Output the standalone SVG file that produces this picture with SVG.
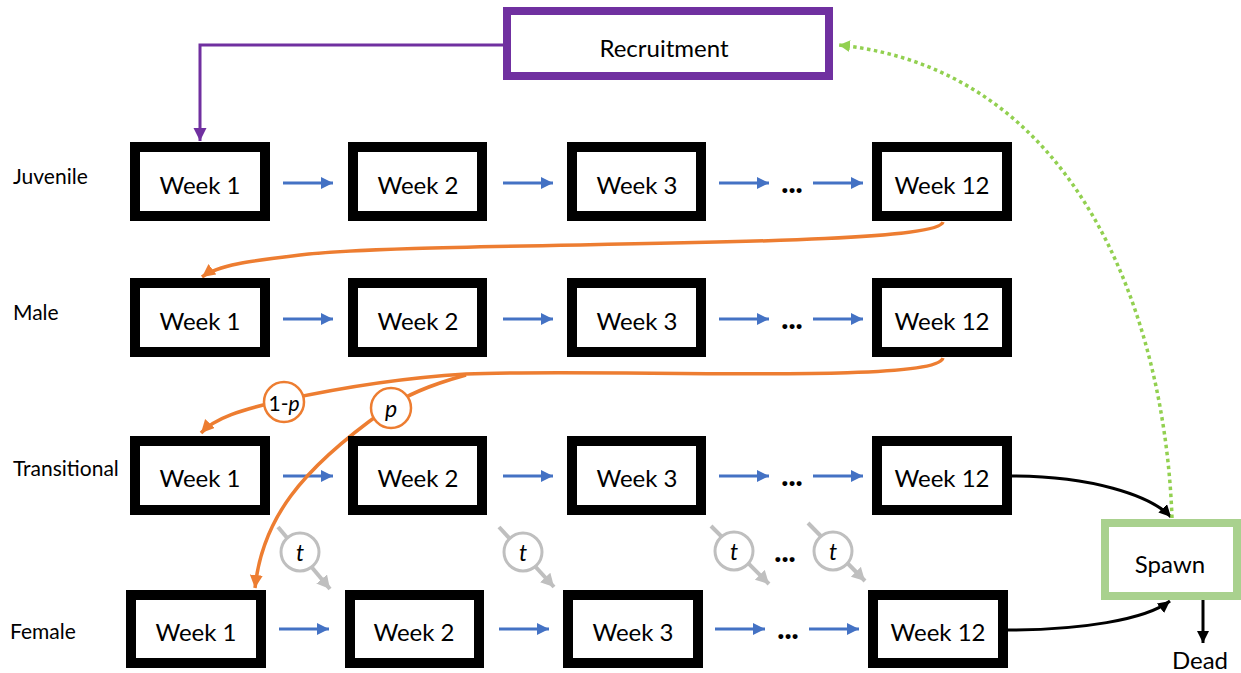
<svg xmlns="http://www.w3.org/2000/svg" width="1241" height="673" viewBox="0 0 1241 673">
<style>
.box{fill:#fff;stroke:#000;stroke-width:10}
.lbl{font-family:Lato,"Open Sans","Liberation Sans",sans-serif;font-size:24px;fill:#000;text-anchor:middle;dominant-baseline:central}
.row{font-family:Lato,"Open Sans","Liberation Sans",sans-serif;font-size:21px;fill:#000;dominant-baseline:central}
.dots{font-family:Lato,"Open Sans","Liberation Sans",sans-serif;font-size:30px;font-weight:900;fill:#000;text-anchor:middle}
.blue{stroke:#4472C4;stroke-width:3;fill:none;marker-end:url(#mBlue)}
.orange{stroke:#ED7D31;stroke-width:3.5;fill:none}
.gray{stroke:#BFBFBF;stroke-width:4;fill:none}
.ital{font-family:Lato,"Open Sans","Liberation Sans",sans-serif;font-size:23px;font-style:italic;fill:#000;text-anchor:middle;dominant-baseline:central}
</style>
<defs>
<marker id="mBlue" markerUnits="userSpaceOnUse" markerWidth="14" markerHeight="14" refX="12" refY="6" orient="auto"><path d="M0,0 L12,6 L0,12 z" fill="#4472C4"/></marker>
<marker id="mOrange" markerUnits="userSpaceOnUse" markerWidth="16" markerHeight="16" refX="13" refY="6.5" orient="auto"><path d="M0,0 L13,6.5 L0,13 z" fill="#ED7D31"/></marker>
<marker id="mPurple" markerUnits="userSpaceOnUse" markerWidth="16" markerHeight="16" refX="13" refY="6.5" orient="auto"><path d="M0,0 L13,6.5 L0,13 z" fill="#7030A0"/></marker>
<marker id="mGray" markerUnits="userSpaceOnUse" markerWidth="16" markerHeight="16" refX="13" refY="7" orient="auto"><path d="M0,0 L13,7 L0,14 z" fill="#BFBFBF"/></marker>
<marker id="mBlack" markerUnits="userSpaceOnUse" markerWidth="16" markerHeight="16" refX="12" refY="6" orient="auto"><path d="M0,0 L12,6 L0,12 z" fill="#000"/></marker>
<marker id="mGreen" markerUnits="userSpaceOnUse" markerWidth="16" markerHeight="16" refX="11" refY="6" orient="auto"><path d="M0,0 L11,6 L0,12 z" fill="#92D050"/></marker>
</defs>

<rect width="1241" height="673" fill="#fff"/>

<text class="row" x="13" y="175">Juvenile</text>
<text class="row" x="13" y="311">Male</text>
<text class="row" x="13" y="467">Transitional</text>
<text class="row" x="10" y="630">Female</text>

<g id="connectors">
  <path d="M503 45 H200 V141" stroke="#7030A0" stroke-width="3" fill="none" marker-end="url(#mPurple)"/>
  <line class="blue" x1="283" y1="183" x2="333" y2="183"/>
  <line class="blue" x1="503" y1="183" x2="553" y2="183"/>
  <line class="blue" x1="719" y1="183" x2="769" y2="183"/>
  <line class="blue" x1="813" y1="183" x2="863" y2="183"/>
  <line class="blue" x1="283" y1="319" x2="333" y2="319"/>
  <line class="blue" x1="503" y1="319" x2="553" y2="319"/>
  <line class="blue" x1="719" y1="319" x2="769" y2="319"/>
  <line class="blue" x1="813" y1="319" x2="863" y2="319"/>
  <line class="blue" x1="283" y1="476" x2="333" y2="476"/>
  <line class="blue" x1="503" y1="476" x2="553" y2="476"/>
  <line class="blue" x1="719" y1="476" x2="769" y2="476"/>
  <line class="blue" x1="813" y1="476" x2="863" y2="476"/>
  <line class="blue" x1="279" y1="629" x2="329" y2="629"/>
  <line class="blue" x1="499" y1="629" x2="549" y2="629"/>
  <line class="blue" x1="715" y1="629" x2="765" y2="629"/>
  <line class="blue" x1="809" y1="629" x2="859" y2="629"/>
  <path class="orange" d="M943 222 C935 250 420 240 300 255 C250 261 218 265 202 277" marker-end="url(#mOrange)"/>
  <path class="orange" d="M943 358 C935 385 600 368 466 374 C400 378 330 390 284 400 C240 410 215 418 201 433" marker-end="url(#mOrange)"/>
  <path class="orange" d="M466 375 C430 385 405 395 385 410 C300 470 262 520 255 588" marker-end="url(#mOrange)"/>
  <path class="gray" d="M278 527 L330 589" marker-end="url(#mGray)"/>
  <path class="gray" d="M499 527 L554 587" marker-end="url(#mGray)"/>
  <path class="gray" d="M711 526 L769 584" marker-end="url(#mGray)"/>
  <path class="gray" d="M808 523 L865 581" marker-end="url(#mGray)"/>
  <path d="M1012 476 C1090 476 1150 495 1171 517" stroke="#000" stroke-width="3" fill="none" marker-end="url(#mBlack)"/>
  <path d="M1008 630 C1080 630 1145 620 1170 601" stroke="#000" stroke-width="3" fill="none" marker-end="url(#mBlack)"/>
  <line x1="1203" y1="600" x2="1203" y2="643" stroke="#000" stroke-width="3" marker-end="url(#mBlack)"/>
  <path d="M1172 518 C1165 320 1080 70 839 45" stroke="#92D050" stroke-width="3.5" stroke-dasharray="3.5 3.5" fill="none" marker-end="url(#mGreen)"/>
</g>

<g id="prob-1-p">
  <circle cx="284" cy="402" r="20" fill="#fff" stroke="#ED7D31" stroke-width="2.5"/>
  <text class="lbl" x="284" y="402" style="font-size:21px">1-<tspan font-style="italic">p</tspan></text>
</g>
<g id="prob-p">
  <circle cx="391" cy="408" r="20" fill="#fff" stroke="#ED7D31" stroke-width="2.5"/>
  <text class="ital" x="391" y="408">p</text>
</g>
<g id="t1"><circle cx="300" cy="552" r="19" fill="#fff" stroke="#BFBFBF" stroke-width="3"/><text class="ital" x="300" y="552">t</text></g>
<g id="t2"><circle cx="523" cy="552" r="19" fill="#fff" stroke="#BFBFBF" stroke-width="3"/><text class="ital" x="523" y="552">t</text></g>
<g id="t3"><circle cx="734" cy="551" r="19" fill="#fff" stroke="#BFBFBF" stroke-width="3"/><text class="ital" x="734" y="551">t</text></g>
<g id="t4"><circle cx="833" cy="551" r="19" fill="#fff" stroke="#BFBFBF" stroke-width="3"/><text class="ital" x="833" y="551">t</text></g>
<text class="dots" x="785" y="562">...</text>

<text class="dots" x="792" y="193">...</text>
<text class="dots" x="792" y="329">...</text>
<text class="dots" x="792" y="486">...</text>
<text class="dots" x="788" y="639">...</text>

<g id="recruitment">
  <rect x="507" y="11" width="322" height="65" fill="#fff" stroke="#7030A0" stroke-width="8"/>
  <text class="lbl" x="664" y="47" style="font-size:24px">Recruitment</text>
</g>

<g id="juv-w1"><rect class="box" x="135" y="147" width="130" height="69"/><text class="lbl" x="200" y="184">Week 1</text></g>
<g id="juv-w2"><rect class="box" x="353" y="147" width="129" height="69"/><text class="lbl" x="418" y="184">Week 2</text></g>
<g id="juv-w3"><rect class="box" x="572" y="147" width="129" height="69"/><text class="lbl" x="637" y="184">Week 3</text></g>
<g id="juv-w12"><rect class="box" x="877" y="147" width="130" height="69"/><text class="lbl" x="942" y="184">Week 12</text></g>

<g id="male-w1"><rect class="box" x="135" y="283" width="130" height="69"/><text class="lbl" x="200" y="320">Week 1</text></g>
<g id="male-w2"><rect class="box" x="353" y="283" width="129" height="69"/><text class="lbl" x="418" y="320">Week 2</text></g>
<g id="male-w3"><rect class="box" x="572" y="283" width="129" height="69"/><text class="lbl" x="637" y="320">Week 3</text></g>
<g id="male-w12"><rect class="box" x="877" y="283" width="130" height="69"/><text class="lbl" x="942" y="320">Week 12</text></g>

<g id="trans-w1"><rect class="box" x="135" y="441" width="130" height="69"/><text class="lbl" x="200" y="477">Week 1</text></g>
<g id="trans-w2"><rect class="box" x="353" y="441" width="129" height="69"/><text class="lbl" x="418" y="477">Week 2</text></g>
<g id="trans-w3"><rect class="box" x="572" y="441" width="129" height="69"/><text class="lbl" x="637" y="477">Week 3</text></g>
<g id="trans-w12"><rect class="box" x="877" y="441" width="130" height="69"/><text class="lbl" x="942" y="477">Week 12</text></g>

<g id="fem-w1"><rect class="box" x="131" y="595" width="130" height="68"/><text class="lbl" x="196" y="631">Week 1</text></g>
<g id="fem-w2"><rect class="box" x="350" y="595" width="129" height="68"/><text class="lbl" x="414" y="631">Week 2</text></g>
<g id="fem-w3"><rect class="box" x="568" y="595" width="130" height="68"/><text class="lbl" x="633" y="631">Week 3</text></g>
<g id="fem-w12"><rect class="box" x="873" y="595" width="130" height="68"/><text class="lbl" x="938" y="631">Week 12</text></g>

<g id="spawn">
  <rect x="1105" y="523" width="132" height="73" fill="#fff" stroke="#A9D18E" stroke-width="8"/>
  <text class="lbl" x="1170" y="563" style="font-size:24px">Spawn</text>
</g>
<g id="dead"><text class="lbl" x="1200" y="659" style="font-size:24px">Dead</text></g>
</svg>
